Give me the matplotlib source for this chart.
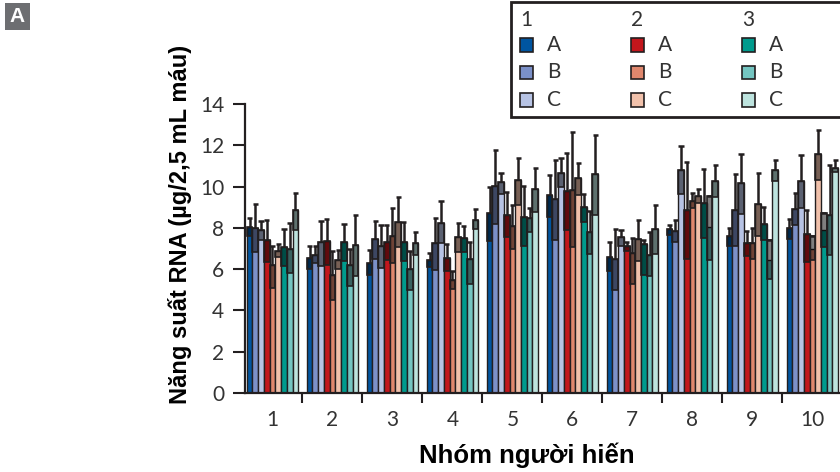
import matplotlib
matplotlib.use("Agg")
import matplotlib.pyplot as plt
from matplotlib.patches import Rectangle

# Nhóm người hiến 1..10, 3 bộ kit x 3 lặp (A, B, C)
groups = list(range(1, 11))
kits = ["1", "2", "3"]
reps = ["A", "B", "C"]
colors = ["#0055a0", "#7b90c8", "#b7c3e4",
          "#c3161c", "#e0876d", "#f1c1ab",
          "#009b8d", "#74c5c1", "#bde3de"]

# giá trị trung bình (chiều cao cột), mỗi dòng là một chuỗi 1A, 1B, ... 3C
means = [
    [8.05, 6.55, 6.3, 6.45, 8.7, 9.6, 6.6, 7.95, 7.6, 8.0],
    [8.0, 6.7, 7.45, 7.25, 10.05, 9.4, 6.5, 7.85, 8.85, 8.9],
    [7.9, 7.3, 7.1, 8.25, 10.2, 10.65, 7.55, 10.8, 10.15, 10.25],
    [7.4, 7.35, 7.3, 6.55, 8.6, 9.8, 7.1, 8.85, 7.25, 7.7],
    [6.2, 5.7, 7.6, 5.45, 8.1, 9.85, 6.8, 9.3, 7.25, 7.0],
    [6.9, 6.45, 8.3, 7.55, 10.3, 10.4, 7.45, 9.55, 9.15, 11.6],
    [7.05, 7.3, 7.3, 7.5, 8.55, 9.0, 7.2, 9.2, 8.2, 7.9],
    [7.0, 6.2, 6.0, 6.5, 8.5, 7.8, 6.7, 8.05, 6.45, 8.6],
    [8.85, 7.15, 7.25, 8.4, 9.9, 10.6, 7.95, 10.25, 10.8, 10.9],
]
# cạnh dưới của hộp sai số
box_low = [
    [7.6, 6.0, 5.7, 6.1, 7.35, 8.55, 5.9, 7.65, 7.1, 7.45],
    [6.85, 6.3, 6.5, 5.95, 8.2, 7.4, 5.0, 7.3, 7.1, 8.15],
    [7.4, 6.15, 6.05, 7.25, 9.65, 10.0, 7.1, 9.65, 8.65, 8.95],
    [6.35, 6.2, 6.45, 5.9, 7.55, 7.9, 6.9, 6.5, 6.65, 6.35],
    [5.1, 4.5, 6.3, 5.05, 7.0, 7.05, 5.3, 8.95, 6.5, 6.45],
    [6.6, 6.0, 7.05, 6.85, 9.1, 9.6, 6.4, 9.2, 7.6, 10.3],
    [6.15, 6.4, 6.4, 6.85, 7.1, 8.3, 5.7, 7.5, 7.4, 7.05],
    [5.8, 5.2, 5.0, 5.3, 7.8, 6.75, 5.65, 6.45, 5.5, 6.7],
    [7.9, 5.65, 6.7, 7.95, 8.75, 8.6, 6.75, 9.5, 10.25, 10.7],
]
# cạnh trên của hộp sai số
box_high = [
    [8.05, 6.55, 6.3, 6.45, 8.7, 9.6, 6.6, 7.95, 7.6, 8.0],
    [8.0, 6.7, 7.45, 7.25, 10.05, 9.4, 6.5, 7.85, 8.85, 8.9],
    [7.9, 7.3, 7.1, 8.25, 10.2, 10.65, 7.55, 10.8, 10.15, 10.25],
    [7.4, 7.35, 7.3, 6.55, 8.6, 9.8, 7.1, 8.85, 7.25, 7.7],
    [6.2, 5.7, 7.6, 5.45, 8.1, 9.85, 6.8, 9.3, 7.25, 7.6],
    [6.9, 6.45, 8.3, 7.55, 10.3, 10.4, 7.45, 9.55, 9.15, 11.6],
    [7.05, 7.3, 7.3, 7.5, 8.55, 9.0, 7.2, 9.2, 8.2, 8.7],
    [7.0, 6.2, 6.0, 6.5, 8.5, 7.8, 6.7, 9.55, 7.4, 8.6],
    [8.85, 7.15, 7.25, 8.4, 9.9, 10.6, 7.95, 10.25, 10.8, 10.9],
]
# đầu trên của râu sai số
whisker_top = [
    [8.5, 7.1, 6.95, 6.8, 10.0, 10.55, 7.3, 8.15, 8.0, 8.45],
    [9.15, 7.1, 8.35, 8.5, 11.75, 11.3, 7.95, 8.4, 10.6, 9.7],
    [8.35, 8.35, 8.15, 9.3, 10.65, 11.4, 7.9, 11.95, 11.6, 11.55],
    [8.4, 8.45, 8.15, 7.2, 9.75, 11.65, 7.3, 11.2, 7.85, 8.85],
    [7.1, 6.9, 8.95, 5.9, 9.1, 12.65, 7.5, 9.7, 8.0, 7.6],
    [7.2, 6.95, 9.5, 8.25, 11.4, 11.15, 8.4, 9.9, 10.65, 12.75],
    [7.95, 8.2, 8.3, 8.1, 10.05, 9.65, 7.4, 10.85, 9.0, 8.7],
    [8.25, 7.0, 6.9, 7.3, 8.95, 8.8, 7.8, 9.55, 7.4, 11.05],
    [9.7, 8.6, 7.8, 8.9, 10.9, 12.5, 9.1, 11.05, 11.3, 11.3],
]

ink = "#231f20"
tickfont = {"family": "Lato", "size": 15, "color": "#333333"}

fig = plt.figure(figsize=(8.4, 4.72), dpi=100)
ax = fig.add_axes([245 / 840, 1 - 393 / 472, 595 / 840, 289 / 472])

w = 0.0955
for j in range(9):
    xs = [g + (j - 4) * w for g in groups]
    ax.bar(xs, means[j], width=w, color=colors[j], edgecolor=ink, linewidth=1.0, zorder=2)
    # hộp sai số bán trong suốt
    heights = [hi - lo for lo, hi in zip(box_low[j], box_high[j])]
    ax.bar(xs, heights, bottom=box_low[j], width=w, color="black", alpha=0.5,
           edgecolor="none", zorder=3)
    ax.bar(xs, heights, bottom=box_low[j], width=w, fill=False,
           edgecolor=ink, linewidth=1.2, zorder=4)
    ax.vlines(xs, box_high[j], whisker_top[j], color=ink, linewidth=1.8, zorder=5)
    ax.hlines(whisker_top[j], [x - w * 0.45 for x in xs], [x + w * 0.45 for x in xs],
              color=ink, linewidth=1.8, zorder=5)

ax.set_xlim(0.542, 10.46)
ax.set_ylim(0, 14)
ax.set_yticks(range(0, 15, 2))
ax.set_yticklabels([str(v) for v in range(0, 15, 2)], fontdict=tickfont)
ax.set_xticks([g + 0.5 for g in groups[:-1]])
ax.set_xticklabels([])
ax.set_xticks(groups, minor=True)
ax.set_xticklabels([str(g) for g in groups], minor=True, fontdict=tickfont)
ax.tick_params(axis="x", which="major", direction="out", length=7, width=1.5, color=ink)
ax.tick_params(axis="x", which="minor", length=0, pad=12)
ax.tick_params(axis="y", direction="out", length=9, width=1.5, color=ink, pad=6)
for s in ["top", "right"]:
    ax.spines[s].set_visible(False)
for s in ["left", "bottom"]:
    ax.spines[s].set_color(ink)
    ax.spines[s].set_linewidth(1.6)

fig.text(180 / 840, 1 - 224 / 472, "Năng suất RNA (µg/2,5 mL máu)", rotation=90,
         ha="center", va="center", fontsize=17, fontweight="bold",
         family="Liberation Sans", color="black")
fig.text(527 / 840, 1 - 455 / 472, "Nhóm người hiến", ha="center", va="center",
         fontsize=18.5, fontweight="bold", family="Liberation Sans", color="black")

# nhãn bảng "A"
fig.patches.append(Rectangle((5 / 840, 1 - 30 / 472), 25 / 840, 27 / 472,
                             transform=fig.transFigure, facecolor="#6d6e71",
                             edgecolor="none"))
fig.text(17.5 / 840, 1 - 17 / 472, "A", ha="center", va="center", color="white",
         fontsize=15, fontweight="bold", family="Liberation Sans")

# chú giải vẽ tay
fig.patches.append(Rectangle((511 / 840, 1 - 117 / 472), 340 / 840, 115 / 472,
                             transform=fig.transFigure, facecolor="white",
                             edgecolor=ink, linewidth=2, zorder=10))
for k, kit in enumerate(kits):
    x0 = 520 + 111 * k
    fig.text(x0 / 840, 1 - 20 / 472, kit, ha="left", va="center", zorder=11, **tickfont)
    for r, rep in enumerate(reps):
        y0 = 45 + 27.5 * r
        fig.patches.append(Rectangle((x0 / 840, 1 - (y0 + 6.5) / 472), 13 / 840, 13 / 472,
                                     transform=fig.transFigure,
                                     facecolor=colors[3 * k + r], edgecolor=ink,
                                     linewidth=1.2, zorder=11))
        fig.text((x0 + 27) / 840, 1 - y0 / 472, rep, ha="left", va="center",
                 zorder=11, **tickfont)

fig.savefig("out.png", dpi=100)
